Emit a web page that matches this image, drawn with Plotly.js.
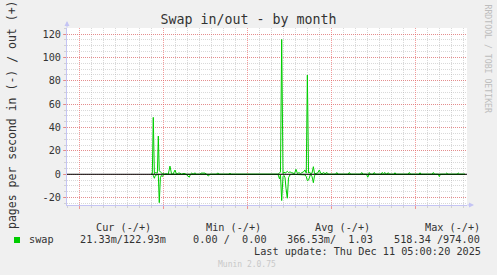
<!DOCTYPE html>
<html>
<head>
<meta charset="utf-8">
<script src="https://cdn.plot.ly/plotly-3.0.1.min.js"></script>
<style>html,body{margin:0;padding:0;background:#f0f0f0;}#chart{width:497px;height:275px;}</style>
</head>
<body>
<div id="chart"></div>
<script>
// ---- data (time in days since graph start) ----
const dayOffset = [7.00,7.11,7.19,7.28,7.36,7.44,7.53,7.61,7.69,7.78,7.86,7.94,8.03,8.11,8.25,8.44,8.58,8.71,8.83,9.00,9.13,9.29,9.42,9.54,9.75,9.92,10.19,10.29,10.39,10.50,10.67,10.79,11.08,11.17,11.33,11.50,11.63,11.78,11.92,12.46,12.56,12.67,13.50,13.58,13.67,17.58,17.71,17.79,17.89,18.00,18.08,18.17,18.25,18.36,18.46,18.58,18.71,18.83,18.96,19.08,19.21,19.33,19.46,19.58,19.71,19.83,19.94,20.03,20.13,20.21,20.29,20.42,20.53,20.63,20.75,20.88,21.03,21.13,21.25,21.38,21.50,21.67,21.79,22.38,22.48,22.58,23.42,23.53,23.63,24.46,24.56,24.67,24.96,25.06,25.13,25.19,25.29,25.50,25.61,25.71,26.17,26.25,26.38,26.50,26.61,26.78,26.88,27.25,27.33,27.42,28.42,28.53,28.63,29.33,29.42,29.50,30.42,30.53,30.63,30.94,31.03,31.11,31.54,31.64,31.75,32.50,32.61,32.71,33.17];
const swapOut = [0,0.5,48.7,0.5,1.5,1,1,32.7,3,2,1,0.5,1,0,0.5,0,7,0.5,0,3.6,0,1,1,0,0.8,0,0,0,1,0,1.2,0,0,1,1,1,0,0,0,0,1.2,0,0,1,0,0,1,2,115.4,0.5,2,1,1.5,2.5,1.5,2,1.5,1,0.5,4.3,0.5,1.5,0.5,1.5,2,3.7,1,84.9,1,2,0.5,1,6.5,0.5,0.5,1,3.7,1,0.5,1.5,0.5,1.5,0,0,1.5,0,0,1.5,0,0,1.5,0,0,0,0,1.5,0,0,1.5,0,0,1.5,0.5,1.5,0,1.3,0,0,1.3,0,0,1.5,0,0,1.3,0,0,1.5,0,0,0,0,0,1,0,0,1,0,0];
const swapIn  = [0,0,1,3.4,1,0.5,0,0,24.3,3,1,2,0.5,0,0,0,0,0,0.5,0,0,0,0,0,0,0,2.5,0,0,0,0,0,0,0,0,0,0,1.5,0,0,0,0,0,0,0,0,4,0.5,22.5,2,1,3,12,20.5,3,0.5,0,0,0,0,0,0,0,0,0,0.5,2,5.5,5,1,0,2,7.2,1,0,0,0,0,0.5,0,0,0,0,0,0,0,0,0,0,0,0,0,0,2.5,0,0,0,0,0,0,0,0,0,0,0,0,0,0,0,0,0,0,0,0,0,0,0,0,0,0,2,0,0,0,0,0,0,0,0];

const weekLabels = ['Week 46','Week 47','Week 48','Week 49','Week 50'];
const weekStartDays = [1.05, 8.05, 15.05, 22.05, 29.05];
const yTickVals = [-20, 0, 20, 40, 60, 80, 100, 120];
const yTickText = ['-20', '0', '20', '40', '60', '80', '100', '120'];

const legendHeaders = ['Cur (-/+)', 'Min (-/+)', 'Avg (-/+)', 'Max (-/+)'];
const legendValues = ['21.33m/122.93m', '0.00 /  0.00', '366.53m/  1.03', '518.34 /974.00'];
const seriesName = 'swap';

// ---- geometry helpers (pixel -> paper) ----
const L = 67, R = 467, T = 28, B = 205;
const px = x => (x - L) / (R - L);
const py = y => (B - y) / (B - T);
const nb = s => s.replace(/ /g, '\u00a0');

const GREEN = '#00cc00';
const RED = 'rgba(235,90,90,0.6)';
const GRAY = 'rgba(170,170,170,0.45)';
const AXIS = '#c4c4f4';
const TXT = '#333333';
const FONT = 'DejaVu Sans Mono, monospace';

const traces = [
  {x: dayOffset, y: swapOut, type: 'scatter', mode: 'lines', name: seriesName,
   line: {color: GREEN, width: 1}, xaxis: 'x', yaxis: 'y', hoverinfo: 'skip'},
  {x: dayOffset, y: swapIn.map(v => -v), type: 'scatter', mode: 'lines', name: seriesName,
   line: {color: GREEN, width: 1}, xaxis: 'x', yaxis: 'y', hoverinfo: 'skip'}
];

const xr = [0, 400 / 12];
const annotations = [];
const hdrX = [94, 204, 313.3, 422.7];
legendHeaders.forEach((t, i) => annotations.push({text: nb(t), xref: 'paper', yref: 'paper', x: px(hdrX[i]), y: py(227.7), xanchor: 'left', yanchor: 'middle', showarrow: false, font: {family: FONT, size: 10.2, color: TXT}}));
const valX = [77.7, 190.7, 285, 392.3];
legendValues.forEach((t, i) => annotations.push({text: nb(t), xref: 'paper', yref: 'paper', x: px(valX[i]), y: py(239.7), xanchor: 'left', yanchor: 'middle', showarrow: false, font: {family: FONT, size: 10.2, color: TXT}}));
annotations.push({text: seriesName, xref: 'paper', yref: 'paper', x: px(26.7), y: py(239.7), xanchor: 'left', yanchor: 'middle', showarrow: false, font: {family: FONT, size: 10.2, color: TXT}});
annotations.push({text: nb('Last update: Thu Dec 11 05:00:20 2025'), xref: 'paper', yref: 'paper', x: px(482.5), y: py(251.3), xanchor: 'right', yanchor: 'middle', showarrow: false, font: {family: FONT, size: 10.2, color: TXT}});
annotations.push({text: 'Munin 2.0.75', xref: 'paper', yref: 'paper', x: px(247), y: py(264.3), xanchor: 'center', yanchor: 'middle', showarrow: false, font: {family: FONT, size: 8, color: '#c8c8c8'}});
annotations.push({text: nb('RRDTOOL / TOBI OETIKER'), xref: 'paper', yref: 'paper', x: px(487.5), y: py(59), xanchor: 'center', yanchor: 'middle', textangle: 90, showarrow: false, font: {family: FONT, size: 8.2, color: '#bdbdbd'}});
annotations.push({text: nb('pages per second in (-) / out (+)'), xref: 'paper', yref: 'paper', x: px(12), y: py(115), xanchor: 'center', yanchor: 'middle', textangle: -90, showarrow: false, font: {family: FONT, size: 11.5, color: TXT}});
// axis arrows
annotations.push({text: '', xref: 'paper', yref: 'paper', x: px(67), y: py(21), ax: 0, ay: 8, showarrow: true, arrowhead: 2, arrowsize: 1, arrowwidth: 1, arrowcolor: AXIS});
annotations.push({text: '', xref: 'paper', yref: 'paper', x: px(474), y: py(205), ax: -8, ay: 0, showarrow: true, arrowhead: 2, arrowsize: 1, arrowwidth: 1, arrowcolor: AXIS});

const shapes = [
  {type: 'line', xref: 'paper', yref: 'y', x0: 0, x1: 1, y0: 0, y1: 0, line: {color: '#000000', width: 1}, layer: 'above'},
  {type: 'rect', xref: 'paper', yref: 'paper', x0: px(14), x1: px(20), y0: py(243), y1: py(237), fillcolor: GREEN, line: {width: 0}}
];

const layout = {
  width: 497, height: 275,
  margin: {l: L, r: 497 - R, t: T, b: 275 - B, pad: 0},
  paper_bgcolor: '#f0f0f0', plot_bgcolor: '#ffffff',
  font: {family: FONT, size: 10.2, color: TXT},
  showlegend: false, hovermode: false,
  title: {text: 'Swap in/out - by month', font: {family: FONT, size: 13.3, color: TXT},
          xref: 'container', x: 0.5, xanchor: 'center', yref: 'container', y: 1 - 19 / 275, yanchor: 'middle'},
  xaxis: {range: xr, fixedrange: true, tickmode: 'linear', tick0: weekStartDays[0], dtick: 7,
          showticklabels: false, showgrid: true, gridcolor: RED, griddash: '1px,1px', gridwidth: 1,
          ticks: 'outside', ticklen: 3, tickcolor: RED, zeroline: false,
          showline: true, linecolor: AXIS, linewidth: 1,
          minor: {tickmode: 'linear', tick0: weekStartDays[0] - 1, dtick: 1, showgrid: true, gridcolor: GRAY, griddash: '1px,1px', ticks: 'outside', ticklen: 2, tickcolor: GRAY}},
  xaxis2: {range: xr, fixedrange: true, overlaying: 'x', anchor: 'y', side: 'bottom',
           tickmode: 'array', tickvals: weekStartDays.map(d => d + 3.5), ticktext: weekLabels,
           showgrid: false, zeroline: false, showline: false, ticks: '',
           tickfont: {family: FONT, size: 10.2, color: TXT}},
  yaxis: {range: [-26.3, 125.2], fixedrange: true, tickmode: 'array', tickvals: yTickVals, ticktext: yTickText,
          showgrid: true, gridcolor: RED, griddash: '1px,1px', gridwidth: 1,
          ticks: 'outside', ticklen: 3, tickcolor: RED, zeroline: false,
          showline: true, linecolor: AXIS, linewidth: 1,
          tickfont: {family: FONT, size: 10.2, color: TXT},
          minor: {tickmode: 'linear', tick0: 0, dtick: 5, showgrid: true, gridcolor: GRAY, griddash: '1px,1px', ticks: 'outside', ticklen: 2, tickcolor: GRAY}},
  annotations: annotations,
  shapes: shapes
};

Plotly.newPlot('chart', traces, layout, {staticPlot: true, displayModeBar: false});
</script>
</body>
</html>
